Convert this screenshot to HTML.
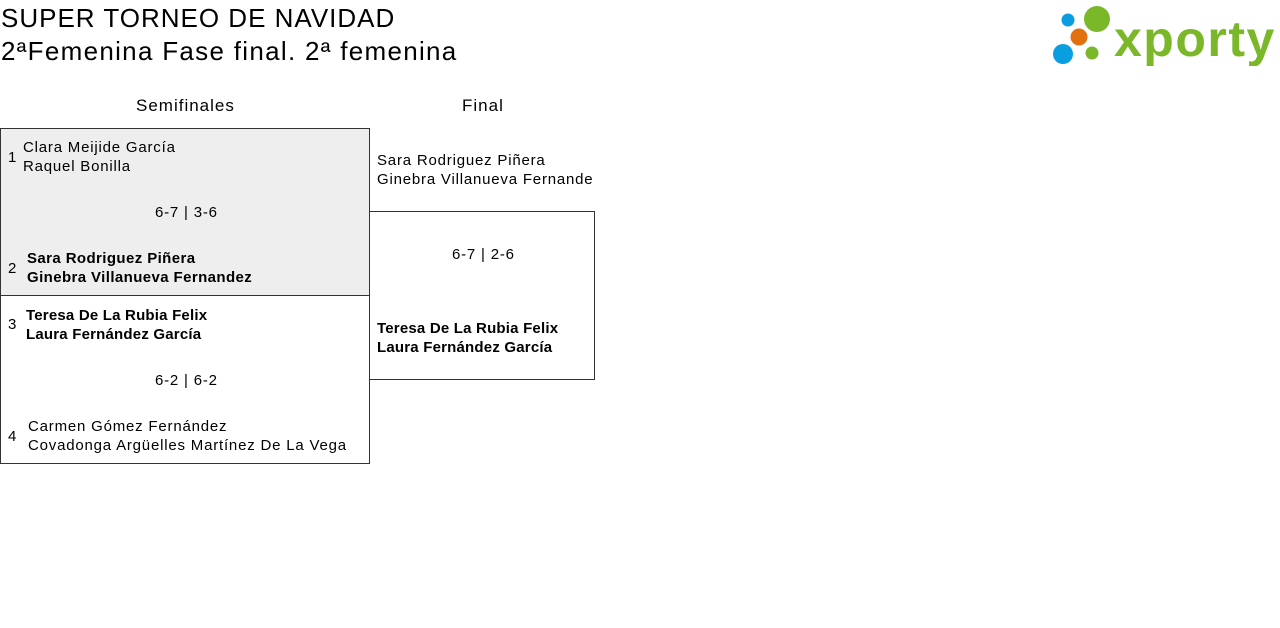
<!DOCTYPE html>
<html><head><meta charset="utf-8"><style>
body{margin:0;width:1280px;height:628px;background:#fff;font-family:"Liberation Sans",sans-serif;color:#000;position:relative;overflow:hidden}
.a{position:absolute;white-space:nowrap}
.t{font-size:26px;letter-spacing:1px;line-height:32px}
.s{font-size:15px;line-height:19px;letter-spacing:0.8px}
.b{font-weight:bold;letter-spacing:0.4px}
.h{font-size:17px;letter-spacing:1px}
.box{position:absolute;border:1px solid #333;box-sizing:border-box}
</style></head><body>
<div class="a t" style="left:1px;top:2px">SUPER TORNEO DE NAVIDAD</div>
<div class="a t" style="left:1px;top:35px;letter-spacing:1.3px">2ªFemenina Fase final. 2ª femenina</div>
<svg class="a" style="left:1050px;top:4px" width="230" height="62">
<circle cx="18" cy="16" r="6.5" fill="#0a9ee0"/>
<circle cx="47" cy="15" r="13" fill="#7ab82a"/>
<circle cx="29" cy="33" r="8.5" fill="#e3700f"/>
<circle cx="13" cy="50" r="10" fill="#0a9ee0"/>
<circle cx="42" cy="49" r="6.5" fill="#7ab82a"/>
<text x="64" y="52" font-family="Liberation Sans" font-weight="bold" font-size="50" fill="#7ab82a" letter-spacing="1.5">xporty</text>
</svg>
<div class="a h" style="left:136px;top:96px">Semifinales</div>
<div class="a h" style="left:462px;top:96px">Final</div>
<div class="box" style="left:0;top:128px;width:370px;height:168px;background:#eee"></div>
<div class="box" style="left:0;top:295px;width:370px;height:169px"></div>
<div class="box" style="left:369px;top:211px;width:226px;height:169px"></div>
<div class="a s" style="left:8px;top:148px">1</div>
<div class="a s" style="left:23px;top:138px">Clara Meijide García<br>Raquel Bonilla</div>
<div class="a s" style="left:155px;top:203px">6-7 | 3-6</div>
<div class="a s" style="left:8px;top:259px">2</div>
<div class="a s b" style="left:27px;top:249px">Sara Rodriguez Piñera<br>Ginebra Villanueva Fernandez</div>
<div class="a s" style="left:8px;top:315px">3</div>
<div class="a s b" style="left:26px;top:306px;letter-spacing:0.2px">Teresa De La Rubia Felix<br>Laura Fernández García</div>
<div class="a s" style="left:155px;top:371px">6-2 | 6-2</div>
<div class="a s" style="left:8px;top:427px">4</div>
<div class="a s" style="left:28px;top:417px">Carmen Gómez Fernández<br>Covadonga Argüelles Martínez De La Vega</div>
<div class="a s" style="left:377px;top:151px">Sara Rodriguez Piñera<br>Ginebra Villanueva Fernande</div>
<div class="a s" style="left:452px;top:245px">6-7 | 2-6</div>
<div class="a s b" style="left:377px;top:319px;letter-spacing:0.2px">Teresa De La Rubia Felix<br>Laura Fernández García</div>
</body></html>
